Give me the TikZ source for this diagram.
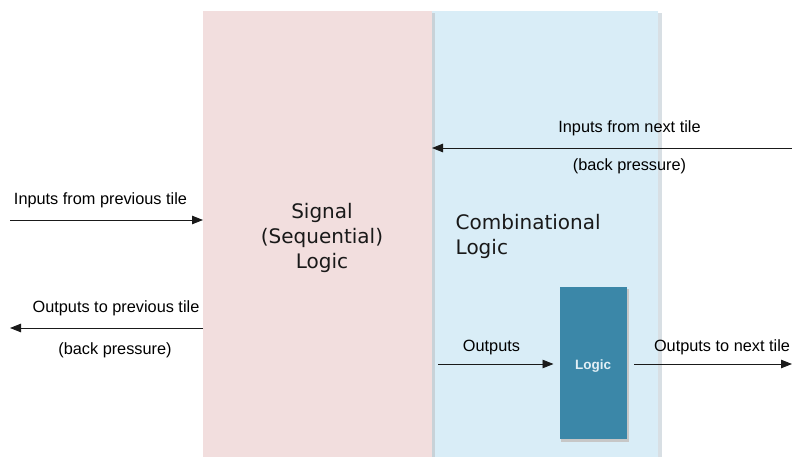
\documentclass[tikz,border=0pt]{standalone}
\usepackage{fontspec}
\setmainfont{Liberation Sans}
\newfontfamily\verd{DejaVu Sans}
\usetikzlibrary{arrows.meta}
\definecolor{pinkbg}{HTML}{F2DEDE}
\definecolor{bluebg}{HTML}{D9EDF7}
\definecolor{logicbg}{HTML}{3B87A8}
\definecolor{logictxt}{HTML}{E2EFF5}
\definecolor{shadowc}{HTML}{C8D2D8}
\definecolor{arrowc}{HTML}{1A1A1A}
\tikzset{
  panel/.style={draw=none, inner sep=0pt, anchor=north west},
  lbl/.style={font=\fontsize{16.3}{19}\selectfont, inner sep=0pt, text=black},
  big/.style={font=\verd\fontsize{20}{25}\selectfont, inner sep=0pt, text=black!90},
  conn/.style={draw=arrowc, line width=0.9pt, -{Triangle[length=11pt,width=8.5pt]}},
}
\begin{document}
\begin{tikzpicture}[x=1pt,y=-1pt]
\useasboundingbox (0,0) rectangle (792,457);
% shadows
\fill[shadowc!70] (658,13) rectangle (661.5,457);
% panels
\node[panel, fill=pinkbg, minimum width=229pt, minimum height=446pt] (sig) at (203,11) {};
\node[panel, fill=bluebg, minimum width=226pt, minimum height=446pt] (comb) at (432,11) {};
\fill[shadowc] (432,13) rectangle (434.5,457);
% logic box
\fill[black!22] (561,289) rectangle (629,442);
\node[panel, fill=logicbg, minimum width=67pt, minimum height=152pt] (logic) at (559.5,287) {};
\node[font=\bfseries\fontsize{13.5}{16}\selectfont, text=logictxt] (logiclbl) at ([yshift=-3pt]logic.center) {Logic};
% big texts
\node[big, align=center] (sigtxt) at (322,238) {Signal\\(Sequential)\\Logic};
\node[big, align=left, anchor=west] (combtxt) at (455.5,236.5) {Combinational\\Logic};
% coordinates
\coordinate (inprevS) at (10,220);
\coordinate (outprevE) at (10,328);
\coordinate (innextS) at (792,148);
\coordinate (outnextE) at (792,364);
\coordinate (outsS) at (438,364);
\coordinate (outnextS) at (634,364);
% connectors
\draw[conn] (inprevS) -- (inprevS -| sig.west);
\draw[conn] (sig.west |- outprevE) -- (outprevE);
\draw[conn] (innextS) -- (innextS -| comb.west);
\draw[conn, shorten >=6pt] (outsS) -- (outsS -| logic.west);
\draw[conn] (outnextS) -- (outnextE);
% labels
\node[lbl] (l1) at (100.5,200) {Inputs from previous tile};
\node[lbl] (l2) at (116,308) {Outputs to previous tile};
\node[lbl] (l3) at (115,350) {(back pressure)};
\node[lbl] (l4) at (629.5,128) {Inputs from next tile};
\node[lbl] (l5) at (629.5,166) {(back pressure)};
\node[lbl] (l6) at (491.5,347) {Outputs};
\node[lbl] (l7) at (722,347) {Outputs to next tile};
\end{tikzpicture}
\end{document}
